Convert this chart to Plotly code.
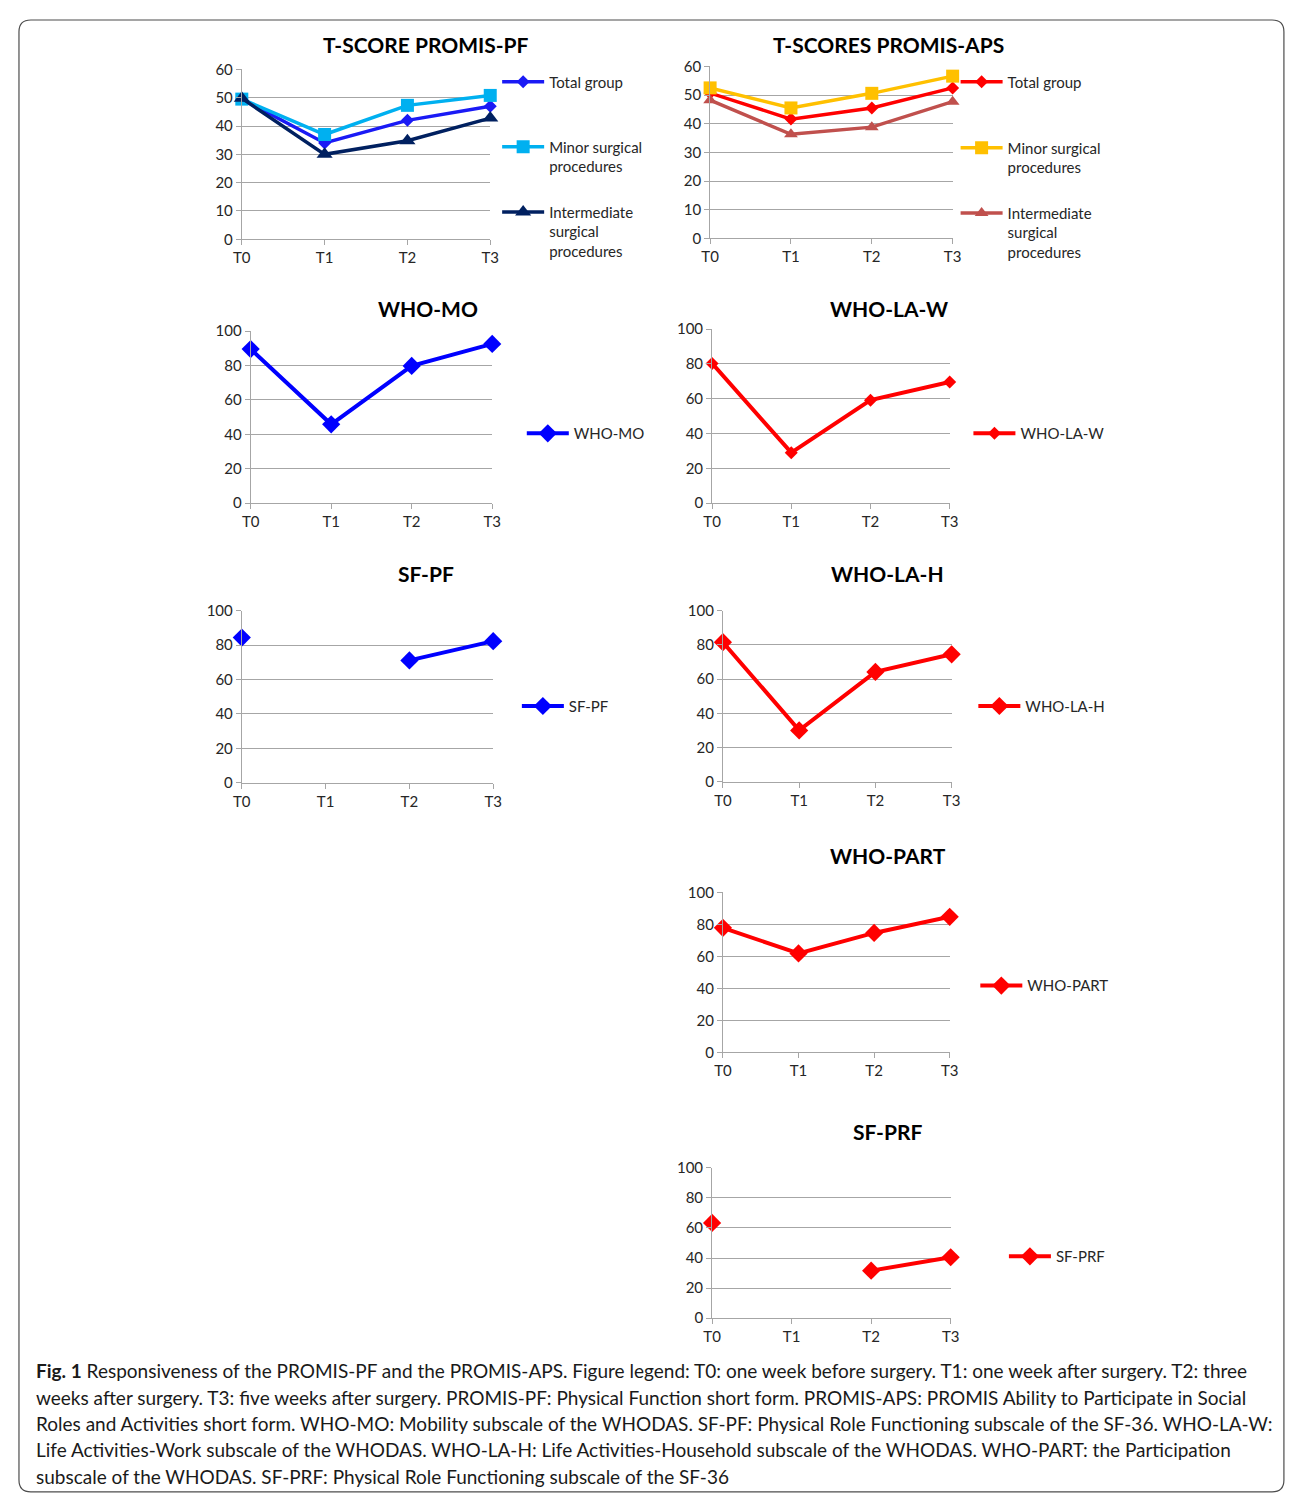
import plotly.graph_objects as go

PAGE_W, PAGE_H = 1295, 1504
BODY_MARGIN = 8
W, H = PAGE_W - 2 * BODY_MARGIN, PAGE_H - 2 * BODY_MARGIN

# ---------------- data ----------------
times = ["T0", "T1", "T2", "T3"]

pf_total = [49.5, 34, 42, 47]
pf_minor = [49.5, 37, 47.3, 50.8]
pf_inter = [49.8, 30, 34.8, 42.8]

aps_total = [50.7, 41.6, 45.5, 52.5]
aps_minor = [52.5, 45.5, 50.6, 56.6]
aps_inter = [48.2, 36.3, 38.8, 47.7]

who_mo = [89.6, 45.8, 79.8, 92.6]
who_la_w = [80.3, 29, 59.2, 69.6]
sf_pf = [84.4, None, 71.1, 82.3]
who_la_h = [81.6, 30, 64.2, 74.5]
who_part = [77.8, 61.8, 74.6, 84.7]
sf_prf = [63.4, None, 31.6, 40.5]

# ---------------- helpers (page pixel -> paper) ----------------
def px(x):
    return (x - BODY_MARGIN) / W

def py(y):
    return 1 - (y - BODY_MARGIN) / H

FONT = "Lato, 'Open Sans', sans-serif"
TXT = "#262626"
GRID = "#A6A6A6"

fig = go.Figure()

# panel: (axis index, x0, x1, ytop, ybot, ymax, dtick, title, title_x, title_y)
panels = [
    (1, 236, 488, 60, 232, 60, 10, "T-SCORE PROMIS-PF", 423, 35),
    (2, 711, 957, 57, 231, 60, 10, "T-SCORES PROMIS-APS", 892, 35),
    (3, 245, 490, 325, 499, 100, 20, "WHO-MO", 425, 302),
    (4, 713, 954, 323, 499, 100, 20, "WHO-LA-W", 892, 302),
    (5, 236, 491, 608, 782, 100, 20, "SF-PF", 423, 570),
    (6, 724, 956, 608, 781, 100, 20, "WHO-LA-H", 891, 570),
    (7, 724, 954, 893, 1055, 100, 20, "WHO-PART", 891, 856),
    (8, 713, 955, 1172, 1324, 100, 20, "SF-PRF", 891, 1135),
]

layout_axes = {}
annotations = []
for (i, x0, x1, yt, yb, ymax, dt, title, tx, ty) in panels:
    xs = "xaxis" if i == 1 else f"xaxis{i}"
    ys = "yaxis" if i == 1 else f"yaxis{i}"
    layout_axes[xs] = dict(
        domain=[px(x0), px(x1)], range=[0, 3], anchor=f"y{i}" if i > 1 else "y",
        tickmode="array", tickvals=[0, 1, 2, 3], ticktext=times,
        showgrid=False, zeroline=False, showline=True, linecolor=GRID, linewidth=1,
        ticks="outside", ticklen=5, tickcolor=GRID,
        tickfont=dict(family=FONT, size=15, color=TXT), fixedrange=True,
    )
    layout_axes[ys] = dict(
        domain=[py(yb), py(yt)], range=[0, ymax], anchor=f"x{i}" if i > 1 else "x",
        dtick=dt, tick0=0, showgrid=True, gridcolor=GRID, gridwidth=1,
        zeroline=False, showline=True, linecolor=GRID, linewidth=1,
        ticks="outside", ticklen=5, tickcolor=GRID,
        tickfont=dict(family=FONT, size=15, color=TXT), fixedrange=True,
    )
    annotations.append(dict(
        text=f"<b>{title}</b>", x=px(tx), y=py(ty), xref="paper", yref="paper",
        xanchor="center", yanchor="middle", showarrow=False,
        font=dict(family=FONT, size=21, color="#000000"),
    ))

# series: (axis idx, name, values, color, symbol, size, width, legend id, legend x, legend y)
series = [
    (1, "Total group", pf_total, "#1A1AF5", "diamond", 10, 3.5, "legend", 500, 74),
    (1, "Minor surgical<br>procedures", pf_minor, "#00B0F0", "square", 13, 3.5, "legend2", 500, 140),
    (1, "Intermediate<br>surgical<br>procedures", pf_inter, "#002060", "triangle-up", 14, 3.5, "legend3", 500, 206),
    (2, "Total group", aps_total, "#FF0000", "diamond", 10, 3.5, "legend4", 965, 74),
    (2, "Minor surgical<br>procedures", aps_minor, "#FFC000", "square", 13, 3.5, "legend5", 965, 141),
    (2, "Intermediate<br>surgical<br>procedures", aps_inter, "#C0504D", "triangle-up", 12, 3.5, "legend6", 965, 207),
    (3, "WHO-MO", who_mo, "#0000FF", "diamond", 14, 4, "legend7", 525, 430),
    (4, "WHO-LA-W", who_la_w, "#FF0000", "diamond", 10, 4, "legend8", 978, 430),
    (5, "SF-PF", sf_pf, "#0000FF", "diamond", 14, 4, "legend9", 520, 706),
    (6, "WHO-LA-H", who_la_h, "#FF0000", "diamond", 14, 4, "legend10", 983, 706),
    (7, "WHO-PART", who_part, "#FF0000", "diamond", 14, 4, "legend11", 985, 989),
    (8, "SF-PRF", sf_prf, "#FF0000", "diamond", 14, 4, "legend12", 1014, 1263),
]

legends = {}
for (i, name, vals, col, sym, size, lw, lg, lx, ly) in series:
    fig.add_trace(go.Scatter(
        x=[0, 1, 2, 3], y=vals, name=name, mode="lines+markers",
        xaxis="x" if i == 1 else f"x{i}", yaxis="y" if i == 1 else f"y{i}",
        line=dict(color=col, width=lw),
        marker=dict(symbol=sym, size=size, color=col, line=dict(width=0)),
        connectgaps=False, cliponaxis=False, legend=lg, showlegend=True,
        hoverinfo="x+y",
    ))
    legends[lg] = dict(
        x=px(lx - 5), y=py(ly - 18), xanchor="left", yanchor="top",
        bgcolor="rgba(0,0,0,0)", borderwidth=0, valign="top",
        font=dict(family=FONT, size=15, color=TXT), itemwidth=42,
        tracegroupgap=0, itemclick=False, itemdoubleclick=False,
    )

# caption
cap_lines = [
    "<b>Fig. 1</b> Responsiveness of the PROMIS-PF and the PROMIS-APS. Figure legend: T0: one week before surgery. T1: one week after surgery. T2: three",
    "weeks after surgery. T3: five weeks after surgery. PROMIS-PF: Physical Function short form. PROMIS-APS: PROMIS Ability to Participate in Social",
    "Roles and Activities short form. WHO-MO: Mobility subscale of the WHODAS. SF-PF: Physical Role Functioning subscale of the SF-36. WHO-LA-W:",
    "Life Activities-Work subscale of the WHODAS. WHO-LA-H: Life Activities-Household subscale of the WHODAS. WHO-PART: the Participation",
    "subscale of the WHODAS. SF-PRF: Physical Role Functioning subscale of the SF-36",
]
cap_y = [1377, 1404, 1431, 1457, 1484]
for t, yy in zip(cap_lines, cap_y):
    annotations.append(dict(
        text=t, x=px(25), y=py(yy), xref="paper", yref="paper",
        xanchor="left", yanchor="middle", showarrow=False,
        font=dict(family=FONT, size=19, color="#1a1a1a"),
    ))

# rounded outer frame (page px 10..1293 x 10..1500)
fx0, fx1, fy0, fy1, rr = 10, 1293, 10, 1500, 12
def P(x, y):
    return f"{px(x):.6f},{py(y):.6f}"
frame_path = (
    f"M {P(fx0 + rr, fy0)} L {P(fx1 - rr, fy0)} Q {P(fx1, fy0)} {P(fx1, fy0 + rr)} "
    f"L {P(fx1, fy1 - rr)} Q {P(fx1, fy1)} {P(fx1 - rr, fy1)} "
    f"L {P(fx0 + rr, fy1)} Q {P(fx0, fy1)} {P(fx0, fy1 - rr)} "
    f"L {P(fx0, fy0 + rr)} Q {P(fx0, fy0)} {P(fx0 + rr, fy0)} Z"
)
fig.add_shape(type="path", xref="paper", yref="paper", path=frame_path,
              line=dict(color="#4D4D4D", width=1.2), fillcolor="rgba(0,0,0,0)", layer="below")

fig.update_layout(
    width=W, height=H, margin=dict(l=0, r=0, t=0, b=0),
    paper_bgcolor="white", plot_bgcolor="white",
    annotations=annotations, **layout_axes, **legends,
    hovermode="closest",
)

fig.write_html("out.html", config={"displayModeBar": False})
